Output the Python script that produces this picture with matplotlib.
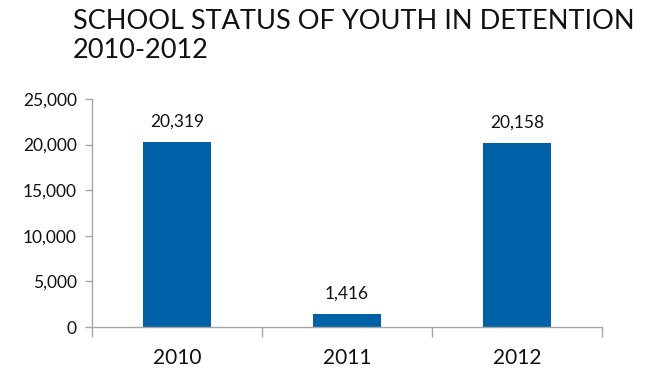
import matplotlib.pyplot as plt
from matplotlib.ticker import FuncFormatter

years = ['2010', '2011', '2012']
youth_counts = [20319, 1416, 20158]
y_ticks = [0, 5000, 10000, 15000, 20000, 25000]

bar_color = '#0060A8'
axis_color = '#A6A6A6'

plt.rcParams['font.family'] = ['Lato', 'DejaVu Sans']

fig = plt.figure(figsize=(6.49, 3.69), dpi=100)
ax = fig.add_axes([92 / 649, 1 - 327 / 369, (602 - 92) / 649, (327 - 99) / 369])

x = range(len(years))
bars = ax.bar(x, youth_counts, width=0.4, color=bar_color, zorder=2)

for rect, val in zip(bars, youth_counts):
    ax.annotate(f'{val:,}', (rect.get_x() + rect.get_width() / 2, val),
                xytext=(0, 9), textcoords='offset points',
                ha='center', va='bottom', fontsize=12.5, color='#111111')

ax.set_xlim(-0.5, len(years) - 0.5)
ax.set_ylim(0, 25000)
ax.set_yticks(y_ticks)
ax.yaxis.set_major_formatter(FuncFormatter(lambda v, _: f'{int(v):,}'))

# category labels centred, tick marks between categories
ax.set_xticks(list(x))
ax.set_xticklabels(years, fontsize=15, color='#111111')
ax.tick_params(axis='x', length=0, pad=15)
ax.set_xticks([i - 0.5 for i in range(len(years) + 1)], minor=True)
ax.tick_params(axis='x', which='minor', length=7, color=axis_color, width=1)
ax.tick_params(axis='y', length=5, color=axis_color, width=1, labelsize=12.5,
               labelcolor='#111111', pad=6)

for side in ['top', 'right']:
    ax.spines[side].set_visible(False)
for side in ['left', 'bottom']:
    ax.spines[side].set_color(axis_color)
    ax.spines[side].set_linewidth(1)

fig.text(73 / 649, 1 - 9 / 369, 'SCHOOL STATUS OF YOUTH IN DETENTION\n2010-2012',
         ha='left', va='top', fontsize=19.5, color='#111111', linespacing=1.2)

fig.savefig('out.png', dpi=100)
